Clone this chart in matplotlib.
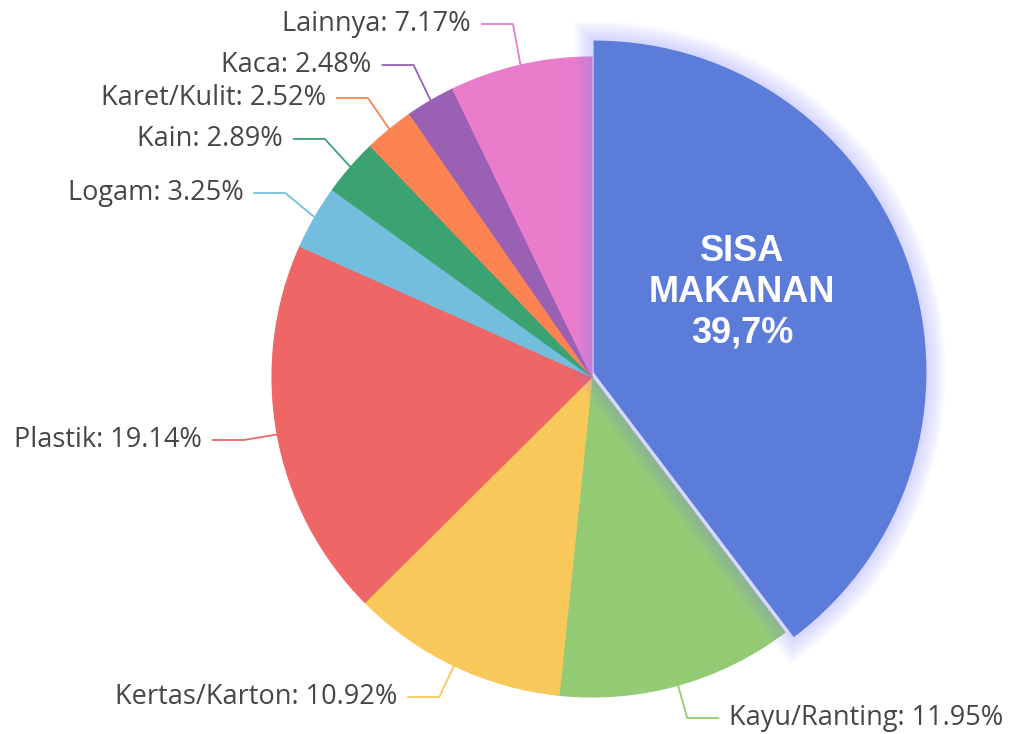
import numpy as np
import matplotlib.pyplot as plt
import matplotlib.patheffects as pe

# data
categories = ['Sisa Makanan', 'Kayu/Ranting', 'Kertas/Karton', 'Plastik', 'Logam',
              'Kain', 'Karet/Kulit', 'Kaca', 'Lainnya']
values = [39.7, 11.95, 10.92, 19.14, 3.25, 2.89, 2.52, 2.48, 7.17]
colors = ['#5b7cd8', '#93cb75', '#f9c85a', '#ee6666', '#73bedd',
          '#3ba272', '#fc8452', '#9a60b4', '#ea7ccc']

# label rows (pixel y from top) for the outside labels, None for the big slice
label_rows = [None, 718, 697, 440, 193, 139, 98, 65, 24]

W, H = 1010, 734
cx, cy = 592, H - 377
R = 320

fig = plt.figure(figsize=(W / 100, H / 100), dpi=100)
ax = fig.add_axes([0, 0, 1, 1])

wedges, _ = ax.pie(values, colors=colors, startangle=90, counterclock=False,
                   center=(cx, cy), radius=R, wedgeprops=dict(linewidth=0.8))
for w, c in zip(wedges, colors):
    w.set_edgecolor(c)

# highlighted slice: a bit bigger with a soft glow
big = wedges[0]
big.set_center((cx + 3, cy + 5))
big.set_radius(330)
big.set_zorder(5)
big.set_linewidth(2)
glow = [pe.Stroke(linewidth=lw, foreground='#7f7fff', alpha=0.035)
        for lw in range(30, 1, -3)]
big.set_path_effects(glow + [pe.Normal()])

ax.text(cx + 150, H - 292, 'SISA\nMAKANAN\n39,7%', color='white', fontsize=26,
        fontweight='bold', family='Liberation Sans', ha='center', va='center',
        linespacing=1.22, zorder=6)

# outside labels with two-segment leader lines
L1, L2, gap = 34, 32, 10
for w, name, v, c, row in zip(wedges, categories, values, colors, label_rows):
    if row is None:
        continue
    mid = np.deg2rad((w.theta1 + w.theta2) / 2)
    ex, ey = cx + R * np.cos(mid), cy + R * np.sin(mid)
    bx = ex + L1 * np.cos(mid)
    by = H - row
    side = 1 if np.cos(mid) > 0 else -1
    hx = bx + side * L2
    ax.plot([ex, bx, hx], [ey, by, by], color=c, lw=1.3, zorder=2,
            solid_capstyle='butt')
    ax.text(hx + side * gap, by, f'{name}: {v:.2f}%', color='#464646',
            fontsize=19.5, family='Open Sans', ha='left' if side > 0 else 'right',
            va='center', zorder=3)

ax.set_xlim(0, W)
ax.set_ylim(0, H)
ax.set_aspect('equal')
ax.axis('off')

fig.savefig('out.png', dpi=100, facecolor='white')
